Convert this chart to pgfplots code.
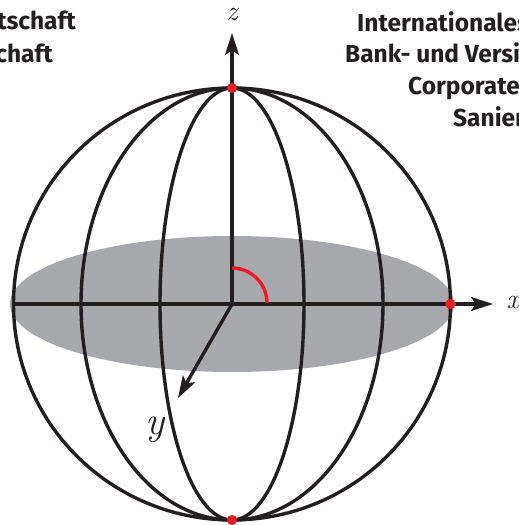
\documentclass[border=0pt]{standalone}
\usepackage{fontspec}
\newfontfamily\bgfont{Fira Sans}
\usepackage{pgfplots}
\pgfplotsset{compat=1.18}
\usetikzlibrary{arrows.meta}
\definecolor{ink}{HTML}{231F20}
\definecolor{redpt}{HTML}{ED1C24}
\definecolor{disc}{HTML}{A7A9AC}
\tikzset{
  ax/.style={-{Stealth[length=22pt,width=14pt,inset=5pt]}},
  bg/.style={inner sep=0pt, ink, font=\bgfont\bfseries\fontsize{24.5}{29}\selectfont},
  lab/.style={ink, inner sep=0pt, font=\fontsize{28}{28}\selectfont\itshape},
}

\begin{document}
\begin{tikzpicture}
\useasboundingbox (0,0) rectangle (519pt,525pt);
\clip (0,0) rectangle (519pt,525pt);
\begin{axis}[
  at={(0,0)}, anchor=south west,
  x=1pt, y=1pt,
  xmin=-232, xmax=287, ymin=-221, ymax=304,
  enlargelimits=false, hide axis, clip=false,
  every axis plot/.append style={ink, line width=3.4pt},
]
% background text
\node[bg, anchor=base west] at (axis cs:125,272) {Internationales Management};
\node[bg, anchor=base west] at (axis cs:113,241) {Bank- und Versicherungen};
\node[bg, anchor=base west] at (axis cs:176,209) {Corporate Finance};
\node[bg, anchor=base west] at (axis cs:221,177) {Sanierung};
\node[bg, anchor=base east] at (axis cs:-156,274) {Betriebswirtschaft};
\node[bg, anchor=base east] at (axis cs:-179,241) {Gesellschaft};

% equatorial disc
\fill[disc] (axis cs:0,0) ellipse [x radius=222, y radius=68];

% axes
\addplot[ax, no markers] coordinates {(-219,0) (261,0)};
\addplot[ax, no markers] coordinates {(0,0) (0,271)};
\addplot[ax, no markers] coordinates {(0,0) (-54,-94)};

% sphere outline and meridians
\draw[ink, line width=3.4pt] (axis cs:0,0) ellipse [x radius=218.5, y radius=216];
\draw[ink, line width=3.4pt] (axis cs:0,0) ellipse [x radius=151, y radius=216];
\draw[ink, line width=3.4pt] (axis cs:0,0) ellipse [x radius=72, y radius=216];

% angle
\draw[redpt, line width=3.4pt] (axis cs:0,36) arc [start angle=90, end angle=0, radius=35];

% points
\addplot[redpt, only marks, mark=*, mark size=5pt,
  mark options={draw=redpt, fill=redpt, line width=0.1pt}]
  coordinates {(0,216) (0,-216) (218.5,0)};

% labels
\node[lab] at (axis cs:0,290) {z};
\node[lab] at (axis cs:281,2) {x};
\node[lab, font=\fontsize{40}{40}\selectfont\itshape] at (axis cs:-77,-126) {y};
\end{axis}
\end{tikzpicture}
\end{document}
